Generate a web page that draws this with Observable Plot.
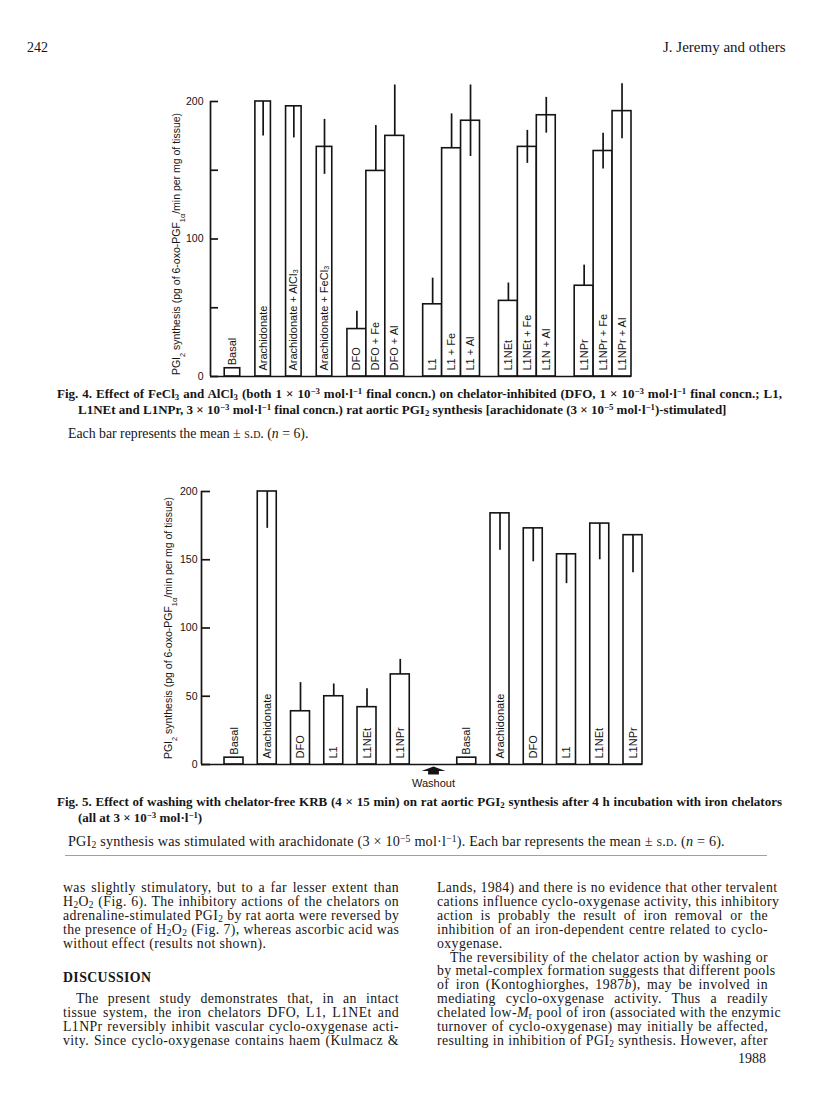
<!DOCTYPE html>
<html><head><meta charset="utf-8">
<script src="https://cdn.jsdelivr.net/npm/d3@7"></script>
<script src="https://cdn.jsdelivr.net/npm/@observablehq/plot@0.6"></script>
<style>
html,body{margin:0;padding:0;background:#fff;}
body{width:816px;height:1097px;position:relative;overflow:hidden;font-family:"Liberation Serif","Times New Roman",serif;color:#161616;}
.t{position:absolute;white-space:nowrap;line-height:14px;}
.j{position:absolute;white-space:nowrap;line-height:14px;text-align:justify;text-align-last:justify;}
.cap{font-weight:bold;font-size:13px;}
.body{font-size:13.8px;letter-spacing:0.4px;}
sup{font-size:68%;line-height:0;vertical-align:0.45em;}
sub{font-size:68%;line-height:0;vertical-align:-0.25em;}
.sc{font-variant:small-caps;}
#fig4,#fig5{position:absolute;left:0;}
#fig4{top:60px;}
#fig5{top:470px;}
</style>
</head><body>
<div id="fig4"></div>
<div id="fig5"></div>
<div id="text"></div>
<script>
// ---------- DATA ----------
const fig4Labels = ["Basal","Arachidonate","Arachidonate + AlCl₃","Arachidonate + FeCl₃","DFO","DFO + Fe","DFO + Al","L1","L1 + Fe","L1 + Al","L1NEt","L1NEt + Fe","L1N + Al","L1NPr","L1NPr + Fe","L1NPr + Al"];
const fig4Groups = ["Basal","Arachidonate","Arachidonate + AlCl₃","Arachidonate + FeCl₃","DFO","DFO","DFO","L1","L1","L1","L1NEt","L1NEt","L1NEt","L1NPr","L1NPr","L1NPr"];
const fig4Means  = [6, 200, 196.5, 167, 34.5, 149.5, 175, 52.5, 166, 186, 55, 167, 190, 66, 164, 193];
const fig4SD     = [0, 25, 23, 20, 13, 33, 37, 19, 25, 26, 13, 12, 13, 15, 13, 20];
const fig4ErrDir = ["none","down","down","both","up","up","up","up","up","both","up","both","both","up","both","both"];
const fig4Ticks = [0, 50, 100, 150, 200];
const fig4TickLabels = ["0", "", "100", "", "200"];

const fig5Labels = ["Basal","Arachidonate","DFO","L1","L1NEt","L1NPr"];
const fig5BeforeMeans = [5, 200, 39, 50, 42, 66];
const fig5BeforeSD    = [0, 27, 21, 9, 13.5, 11];
const fig5BeforeDir   = ["none","down","up","up","up","up"];
const fig5AfterMeans  = [5, 184, 173, 154, 176.5, 168];
const fig5AfterSD     = [0, 27, 24.5, 21.5, 26.5, 27.5];
const fig5AfterDir    = ["none","down","down","down","down","down"];
const fig5Ticks = [0, 50, 100, 150, 200];
const fig5Marker = "Washout";

const yLabel = "PGI₂ synthesis (pg of 6-oxo-PGF₁α/min per mg of tissue)";
const yLabelHTML = 'PGI<tspan baseline-shift="sub" font-size="70%">2</tspan> synthesis (pg of 6-oxo-PGF<tspan baseline-shift="sub" font-size="70%">1α</tspan>/min per mg of tissue)';

// ---------- helpers ----------
function errEnds(m, sd, dir) {
  if (dir === "up") return [m, m + sd];
  if (dir === "down") return [m - sd, m];
  if (dir === "both") return [m - sd, m + sd];
  return [m, m];
}
const sans = "'Liberation Sans', Arial, Helvetica, sans-serif";
const ink = "#141414";
const arrowSymbol = {
  draw(ctx, size) {
    const r = Math.sqrt(size / Math.PI);
    const hw = r, sw = r * 0.45, tip = -r * 0.34, hb = r * 0.04, bot = r * 0.34;
    ctx.moveTo(0, tip);
    ctx.lineTo(hw, hb);
    ctx.lineTo(sw, hb);
    ctx.lineTo(sw, bot);
    ctx.lineTo(-sw, bot);
    ctx.lineTo(-sw, hb);
    ctx.lineTo(-hw, hb);
    ctx.closePath();
  }
};

// ---------- FIG 4 layout (computed from grouping) ----------
const groupSize = g => fig4Groups.filter(x => x === g).length;
const fig4 = [];
let cur = 0.75;
fig4Labels.forEach((label, i) => {
  const g = fig4Groups[i];
  if (i > 0 && fig4Groups[i - 1] !== g) {
    const single = groupSize(fig4Groups[i - 1]) === 1 || groupSize(g) === 1;
    cur += single ? 0.8 : 1.0;
  }
  const w = groupSize(g) === 1 ? 0.82 : 1.0;
  const [lo, hi] = errEnds(fig4Means[i], fig4SD[i], fig4ErrDir[i]);
  fig4.push({label, mean: fig4Means[i], x1: cur, x2: cur + w, xc: cur + w / 2, lo, hi, dir: fig4ErrDir[i]});
  cur += w;
});
const fig4Max = cur;

const p4 = Plot.plot({
  width: 816, height: 321,
  marginLeft: 210, marginRight: 816 - 631, marginTop: 41, marginBottom: 5,
  x: {domain: [0, fig4Max], axis: null},
  y: {domain: [0, 200], axis: null},
  style: {fontFamily: sans, fontSize: "11px", background: "transparent", color: ink, overflow: "visible"},
  marks: [
    Plot.rect(fig4, {x1: "x1", x2: "x2", y1: 0, y2: "mean", fill: "white", stroke: ink, strokeWidth: 1.6}),
    Plot.ruleX(fig4.filter(d => d.dir !== "none"), {x: "xc", y1: "lo", y2: "hi", stroke: ink, strokeWidth: 1.7}),
    Plot.ruleY([0], {stroke: ink, strokeWidth: 1.7}),
    Plot.ruleX([0], {y1: 0, y2: 200, stroke: ink, strokeWidth: 1.7}),
    Plot.axisY({ticks: fig4Ticks, tickFormat: d => fig4TickLabels[fig4Ticks.indexOf(d)], tickSize: 8, dx: 8, tickPadding: 7, fontSize: 10.5, strokeWidth: 1.7, label: null}),
    Plot.text(fig4.filter(d => d.mean >= 20), {x: "xc", y: 0, text: "label", rotate: -90, textAnchor: "start", dy: -6, fontSize: 11}),
    Plot.text(fig4.filter(d => d.mean < 20), {x: "xc", y: "mean", text: "label", rotate: -90, textAnchor: "start", dy: -3, fontSize: 11}),
    Plot.text([yLabel], {frameAnchor: "left", textAnchor: "middle", rotate: -90, dx: -34, dy: 5, fontSize: 10.5})
  ]
});
document.getElementById("fig4").appendChild(p4);

// ---------- FIG 5 layout ----------
const fig5 = [];
const slots = [];
fig5Labels.forEach((l, i) => slots.push({label: l, mean: fig5BeforeMeans[i], sd: fig5BeforeSD[i], dir: fig5BeforeDir[i]}));
slots.push(null);
fig5Labels.forEach((l, i) => slots.push({label: l, mean: fig5AfterMeans[i], sd: fig5AfterSD[i], dir: fig5AfterDir[i]}));
const off5 = 0.692, bw5 = 0.571;
let washX = 0;
slots.forEach((s, i) => {
  const x1 = off5 + i, x2 = x1 + bw5;
  if (!s) { washX = (x1 + x2) / 2; return; }
  const [lo, hi] = errEnds(s.mean, s.sd, s.dir);
  fig5.push({...s, x1, x2, xc: (x1 + x2) / 2, lo, hi});
});
const fig5Max = off5 + (slots.length - 1) + bw5;

const p5 = Plot.plot({
  width: 816, height: 330,
  marginLeft: 201, marginRight: 816 - 642, marginTop: 21, marginBottom: 36,
  x: {domain: [0, fig5Max], axis: null},
  y: {domain: [0, 200], axis: null},
  style: {fontFamily: sans, fontSize: "11px", background: "transparent", color: ink, overflow: "visible"},
  marks: [
    Plot.rect(fig5, {x1: "x1", x2: "x2", y1: 0, y2: "mean", fill: "white", stroke: ink, strokeWidth: 1.6}),
    Plot.ruleX(fig5.filter(d => d.dir !== "none"), {x: "xc", y1: "lo", y2: "hi", stroke: ink, strokeWidth: 1.7}),
    Plot.ruleY([0], {stroke: ink, strokeWidth: 1.7}),
    Plot.ruleX([0], {y1: 0, y2: 200, stroke: ink, strokeWidth: 1.7}),
    Plot.axisY({ticks: fig5Ticks, tickFormat: d => String(d), tickSize: 9, dx: 9, tickPadding: 4, fontSize: 10.5, strokeWidth: 1.7, label: null}),
    Plot.text(fig5.filter(d => d.mean >= 20), {x: "xc", y: 0, text: "label", rotate: -90, textAnchor: "start", dy: -6, fontSize: 11}),
    Plot.text(fig5.filter(d => d.mean < 20), {x: "xc", y: "mean", text: "label", rotate: -90, textAnchor: "start", dy: -3, fontSize: 11}),
    Plot.dot([fig5Marker], {x: () => washX, y: () => 0, symbol: arrowSymbol, r: 12, fill: ink, stroke: "none", dy: 6}),
    Plot.text([fig5Marker], {x: () => washX, y: () => 0, text: d => d, dy: 19, fontSize: 11}),
    Plot.text([yLabel], {frameAnchor: "left", textAnchor: "middle", rotate: -90, dx: -33, fontSize: 10.5})
  ]
});
document.getElementById("fig5").appendChild(p5);

// subscripts in the y-axis titles
document.querySelectorAll("#fig4 text, #fig5 text").forEach(t => {
  if (t.textContent === yLabel) t.innerHTML = yLabelHTML;
});

// ---------- PAGE TEXT ----------
const L = [];
function line(cls, x, yc, html, width) {
  const style = `left:${x}px;top:${yc - 7}px;` + (width ? `width:${width}px;` : "");
  L.push(`<div class="${cls}" style="${style}">${html}</div>`);
}
const mol = () => `mol·l<sup>−1</sup>`;
line("t", 27, 47, `<span style="font-size:14px">242</span>`);
line("t", 663, 47, `<span style="font-size:15px">J. Jeremy and others</span>`);

line("j cap", 57, 394, `Fig. 4. Effect of FeCl<sub>3</sub> and AlCl<sub>3</sub> (both 1 × 10<sup>−3</sup> ${mol()} final concn.) on chelator-inhibited (DFO, 1 × 10<sup>−3</sup> ${mol()} final concn.; L1,`, 725);
line("t cap", 78, 410, `L1NEt and L1NPr, 3 × 10<sup>−3</sup> ${mol()} final concn.) rat aortic PGI<sub>2</sub> synthesis [arachidonate (3 × 10<sup>−5</sup> ${mol()})-stimulated]`);
line("t", 68, 433, `<span style="font-size:13.8px">Each bar represents the mean ± <span class="sc">s.d.</span> (<i>n</i> = 6).</span>`);

line("j cap", 57, 802, `Fig. 5. Effect of washing with chelator-free KRB (4 × 15 min) on rat aortic PGI<sub>2</sub> synthesis after 4 h incubation with iron chelators`, 725);
line("t cap", 78, 818, `(all at 3 × 10<sup>−3</sup> ${mol()})`);
line("t", 68, 841, `<span style="font-size:14.2px;letter-spacing:0.2px">PGI<sub>2</sub> synthesis was stimulated with arachidonate (3 × 10<sup>−5</sup> ${mol()}). Each bar represents the mean ± <span class="sc">s.d.</span> (<i>n</i> = 6).</span>`);

L.push(`<div style="position:absolute;left:65px;top:855px;width:702px;height:1px;background:#a0a0a0;"></div>`);

const row0 = 888, rs = 13.9, lx = 63, lw = 336, rx = 437, rw = 331;
const left = [
  ["j", `was slightly stimulatory, but to a far lesser extent than`],
  ["j", `H<sub>2</sub>O<sub>2</sub> (Fig. 6). The inhibitory actions of the chelators on`],
  ["j", `adrenaline-stimulated PGI<sub>2</sub> by rat aorta were reversed by`],
  ["j", `the presence of H<sub>2</sub>O<sub>2</sub> (Fig. 7), whereas ascorbic acid was`],
  ["t", `without effect (results not shown).`]
];
left.forEach(([c, h], i) => line(c + " body", lx, row0 + i * rs, h, c === "j" ? lw : null));
line("t body", lx, row0 + 6.5 * rs, `<b>DISCUSSION</b>`);
const left2 = [
  ["j", `The present study demonstrates that, in an intact`, 13],
  ["j", `tissue system, the iron chelators DFO, L1, L1NEt and`, 0],
  ["j", `L1NPr reversibly inhibit vascular cyclo-oxygenase acti-`, 0],
  ["j", `vity. Since cyclo-oxygenase contains haem (Kulmacz &amp;`, 0]
];
left2.forEach(([c, h, ind], i) => line(c + " body", lx + ind, row0 + (8 + i) * rs, h, lw - ind));
const right = [
  ["j", `Lands, 1984) and there is no evidence that other tervalent`, 0],
  ["j", `cations influence cyclo-oxygenase activity, this inhibitory`, 0],
  ["j", `action is probably the result of iron removal or the`, 0],
  ["j", `inhibition of an iron-dependent centre related to cyclo-`, 0],
  ["t", `oxygenase.`, 0],
  ["j", `The reversibility of the chelator action by washing or`, 13],
  ["j", `by metal-complex formation suggests that different pools`, 0],
  ["j", `of iron (Kontoghiorghes, 1987<i>b</i>), may be involved in`, 0],
  ["j", `mediating cyclo-oxygenase activity. Thus a readily`, 0],
  ["j", `chelated low-<i>M</i><sub>r</sub> pool of iron (associated with the enzymic`, 0],
  ["j", `turnover of cyclo-oxygenase) may initially be affected,`, 0],
  ["j", `resulting in inhibition of PGI<sub>2</sub> synthesis. However, after`, 0]
];
right.forEach(([c, h, ind], i) => line(c + " body", rx + ind, row0 + i * rs, h, c === "j" ? rw - ind : null));
line("t", 738, row0 + 11 * rs + 17, `<span style="font-size:14px">1988</span>`);
document.getElementById("text").innerHTML = L.join("");
</script>
</body></html>
